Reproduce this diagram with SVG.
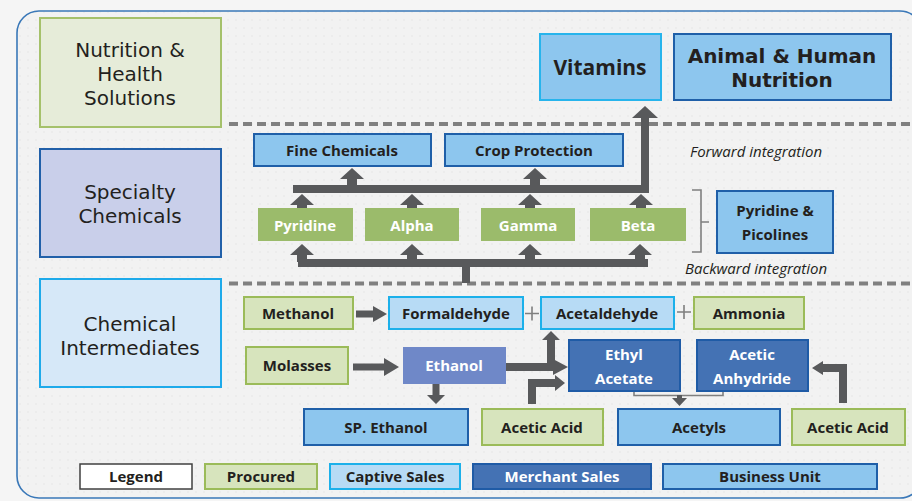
<svg xmlns="http://www.w3.org/2000/svg" width="912" height="501" viewBox="0 0 912 501">
<style>
text{font-family:"Open Sans","Noto Sans","Liberation Sans",sans-serif;text-anchor:middle;fill:#231f20}
.b{font-weight:700;font-size:15px}
.big{font-family:"DejaVu Sans","Liberation Sans",sans-serif;font-size:20px}
.bu{font-weight:700;font-size:21px}
.bu2{font-family:"DejaVu Sans","Liberation Sans",sans-serif;font-weight:700;font-size:20px}
.w{fill:#ffffff}
.it{font-style:italic;font-size:15px;text-anchor:start}
.proc{fill:#d7e4bd;stroke:#9bbb59;stroke-width:2}
.capt{fill:#b7dbf5;stroke:#1cb0ea;stroke-width:2}
.merch{fill:#4472b4;stroke:#1f5ba6;stroke-width:2}
.bunit{fill:#8dc6ee;stroke:#1f5fa8;stroke-width:2}
.grn{fill:#9bbb6b}
.arr{fill:#58595b}
.thin{fill:none;stroke:#7f7f7f;stroke-width:1.6}
.dash{fill:none;stroke:#808080;stroke-width:4;stroke-dasharray:9 5}
</style>
<defs>
<pattern id="dots" width="8" height="8" patternUnits="userSpaceOnUse">
<rect width="8" height="8" fill="#f2f2f2"/>
<circle cx="4" cy="4" r="0.7" fill="#e2e2e2"/>
</pattern>
<path id="up" d="M-12,11 L0,0 L12,11 L5,11 L5,18 L-5,18 L-5,11 Z"/>
</defs>
<rect width="912" height="501" fill="#f5f5f5"/>
<rect x="17" y="11" width="905" height="487" rx="22" fill="url(#dots)" stroke="#3a78b8" stroke-width="1.6"/>

<g id="dividers">
<line class="dash" x1="229" y1="124" x2="912" y2="124"/>
<line class="dash" x1="229" y1="283.5" x2="912" y2="283.5"/>
</g>

<g id="connectors">
<rect class="arr" x="293" y="185" width="356" height="8"/>
<rect class="arr" x="641" y="116" width="8" height="77"/>
<polygon class="arr" points="632,118 645,106 658,118"/>
<use href="#up" class="arr" x="352" y="168"/>
<use href="#up" class="arr" x="535" y="168"/>
<use href="#up" class="arr" x="302" y="194"/>
<use href="#up" class="arr" x="412" y="194"/>
<use href="#up" class="arr" x="530" y="194"/>
<use href="#up" class="arr" x="641" y="194"/>
<rect class="arr" x="298" y="259" width="350" height="8"/>
<rect class="arr" x="462" y="259" width="8" height="24"/>
<use href="#up" class="arr" x="302" y="244"/>
<use href="#up" class="arr" x="412" y="244"/>
<use href="#up" class="arr" x="530" y="244"/>
<use href="#up" class="arr" x="640" y="244"/>
<path class="thin" d="M692,190 H701 V252 H692 M701,222 H709" stroke="#595959"/>
<path class="arr" d="M356,310.5 H373 V306 L387,314 L373,322 V317.5 H356 Z"/>
<path class="arr" d="M353,363.5 H384 V358 L399,367 L384,376 V370.5 H353 Z"/>
<path class="arr" d="M432.5,384 H439.5 V395 H445 L436,404 L427,395 H432.5 Z"/>
<path class="arr" d="M506,363 H553 V359 L568,367 L553,375 V371 H506 Z"/>
<path class="arr" d="M547,367 V340 H542 L551,331 L560,340 H555 V367 Z"/>
<path class="arr" d="M528,404 V379 H555 V375 L565,383 L555,391 V387 H536 V404 Z"/>
<path class="arr" d="M847,403 V364 H823 V361 L812,368 L823,375 V372 H839 V403 Z"/>
<path class="thin" d="M634,391 V395.5 H723 V391"/>
<path class="arr" d="M677,395 H682 V398 H687 L679.5,406 L672,398 H677 Z"/>
<path class="thin" d="M525,313.5 H539 M532,306.5 V320.5"/>
<path class="thin" d="M677,312 H691 M684,305 V319"/>
</g>

<g id="nutrition-health">
<rect x="40" y="18" width="181" height="109" fill="#e6ecd9" stroke="#a5c16b" stroke-width="2"/>
<text class="big" x="130" y="57">Nutrition &amp;<tspan x="130" dy="24">Health</tspan><tspan x="130" dy="23.5">Solutions</tspan></text>
</g>
<g id="specialty-chemicals">
<rect x="40" y="149" width="181" height="108" fill="#c9cfea" stroke="#2160a9" stroke-width="2"/>
<text class="big" x="130" y="199">Specialty<tspan x="130" dy="24">Chemicals</tspan></text>
</g>
<g id="chemical-intermediates">
<rect x="40" y="279" width="181" height="108" fill="#d6e8f8" stroke="#1eaaea" stroke-width="2"/>
<text class="big" x="130" y="331">Chemical<tspan x="130" dy="23.5">Intermediates</tspan></text>
</g>

<g id="vitamins">
<rect x="540" y="34" width="121" height="66" fill="#8dc6ee" stroke="#27b4ec" stroke-width="2"/>
<text class="bu" x="600" y="75">Vitamins</text>
</g>
<g id="animal-human-nutrition">
<rect x="674" y="34" width="217" height="66" class="bunit"/>
<text class="bu2" x="782" y="63">Animal &amp; Human<tspan x="782" dy="24">Nutrition</tspan></text>
</g>
<g id="fine-chemicals">
<rect x="254" y="134" width="177" height="32" class="bunit"/>
<text class="b" x="342" y="156">Fine Chemicals</text>
</g>
<g id="crop-protection">
<rect x="445" y="134" width="178" height="32" class="bunit"/>
<text class="b" x="534" y="156">Crop Protection</text>
</g>
<g id="forward-integration"><text class="it" x="690" y="157">Forward integration</text></g>

<g id="pyridine">
<rect x="258" y="208" width="95" height="33" class="grn"/>
<text class="b w" x="305" y="231">Pyridine</text>
</g>
<g id="alpha">
<rect x="365" y="208" width="94" height="33" class="grn"/>
<text class="b w" x="412" y="231">Alpha</text>
</g>
<g id="gamma">
<rect x="481" y="208" width="94" height="33" class="grn"/>
<text class="b w" x="528" y="231">Gamma</text>
</g>
<g id="beta">
<rect x="590" y="208" width="96" height="33" class="grn"/>
<text class="b w" x="638" y="231">Beta</text>
</g>
<g id="pyridine-picolines">
<rect x="717" y="191" width="116" height="62" class="bunit"/>
<text class="b" x="775" y="216">Pyridine &amp;<tspan x="775" dy="24">Picolines</tspan></text>
</g>
<g id="backward-integration"><text class="it" x="685" y="274">Backward integration</text></g>

<g id="methanol">
<rect x="244" y="297" width="109" height="32" class="proc"/>
<text class="b" x="298" y="319">Methanol</text>
</g>
<g id="formaldehyde">
<rect x="389" y="297" width="134" height="32" class="capt"/>
<text class="b" x="456" y="319">Formaldehyde</text>
</g>
<g id="acetaldehyde">
<rect x="541" y="297" width="133" height="32" class="capt"/>
<text class="b" x="607" y="319">Acetaldehyde</text>
</g>
<g id="ammonia">
<rect x="694" y="297" width="110" height="32" class="proc"/>
<text class="b" x="749" y="319">Ammonia</text>
</g>
<g id="molasses">
<rect x="246" y="347" width="102" height="37" class="proc"/>
<text class="b" x="297" y="371">Molasses</text>
</g>
<g id="ethanol">
<rect x="403" y="347" width="103" height="37" fill="#6f88c8"/>
<text class="b w" x="454" y="371">Ethanol</text>
</g>
<g id="ethyl-acetate">
<rect x="569" y="340" width="111" height="51" class="merch"/>
<text class="b w" x="624" y="360">Ethyl<tspan x="624" dy="24">Acetate</tspan></text>
</g>
<g id="acetic-anhydride">
<rect x="697" y="340" width="111" height="51" class="merch"/>
<text class="b w" x="752" y="360">Acetic<tspan x="752" dy="24">Anhydride</tspan></text>
</g>
<g id="sp-ethanol">
<rect x="304" y="409" width="164" height="36" class="bunit"/>
<text class="b" x="386" y="433">SP. Ethanol</text>
</g>
<g id="acetic-acid-1">
<rect x="482" y="409" width="121" height="36" class="proc"/>
<text class="b" x="542" y="433">Acetic Acid</text>
</g>
<g id="acetyls">
<rect x="618" y="409" width="162" height="36" class="bunit"/>
<text class="b" x="699" y="433">Acetyls</text>
</g>
<g id="acetic-acid-2">
<rect x="792" y="409" width="113" height="36" class="proc"/>
<text class="b" x="848" y="433">Acetic Acid</text>
</g>

<g id="legend">
<rect x="80" y="464" width="112" height="25" fill="#ffffff" stroke="#404040" stroke-width="1.5"/>
<text class="b" x="136" y="482">Legend</text>
<rect x="205" y="464" width="112" height="25" class="proc"/>
<text class="b" x="261" y="482">Procured</text>
<rect x="330" y="464" width="130" height="25" class="capt"/>
<text class="b" x="395" y="482">Captive Sales</text>
<rect x="473" y="464" width="178" height="25" class="merch"/>
<text class="b w" x="562" y="482">Merchant Sales</text>
<rect x="663" y="464" width="214" height="25" class="bunit"/>
<text class="b" x="770" y="482">Business Unit</text>
</g>
</svg>
